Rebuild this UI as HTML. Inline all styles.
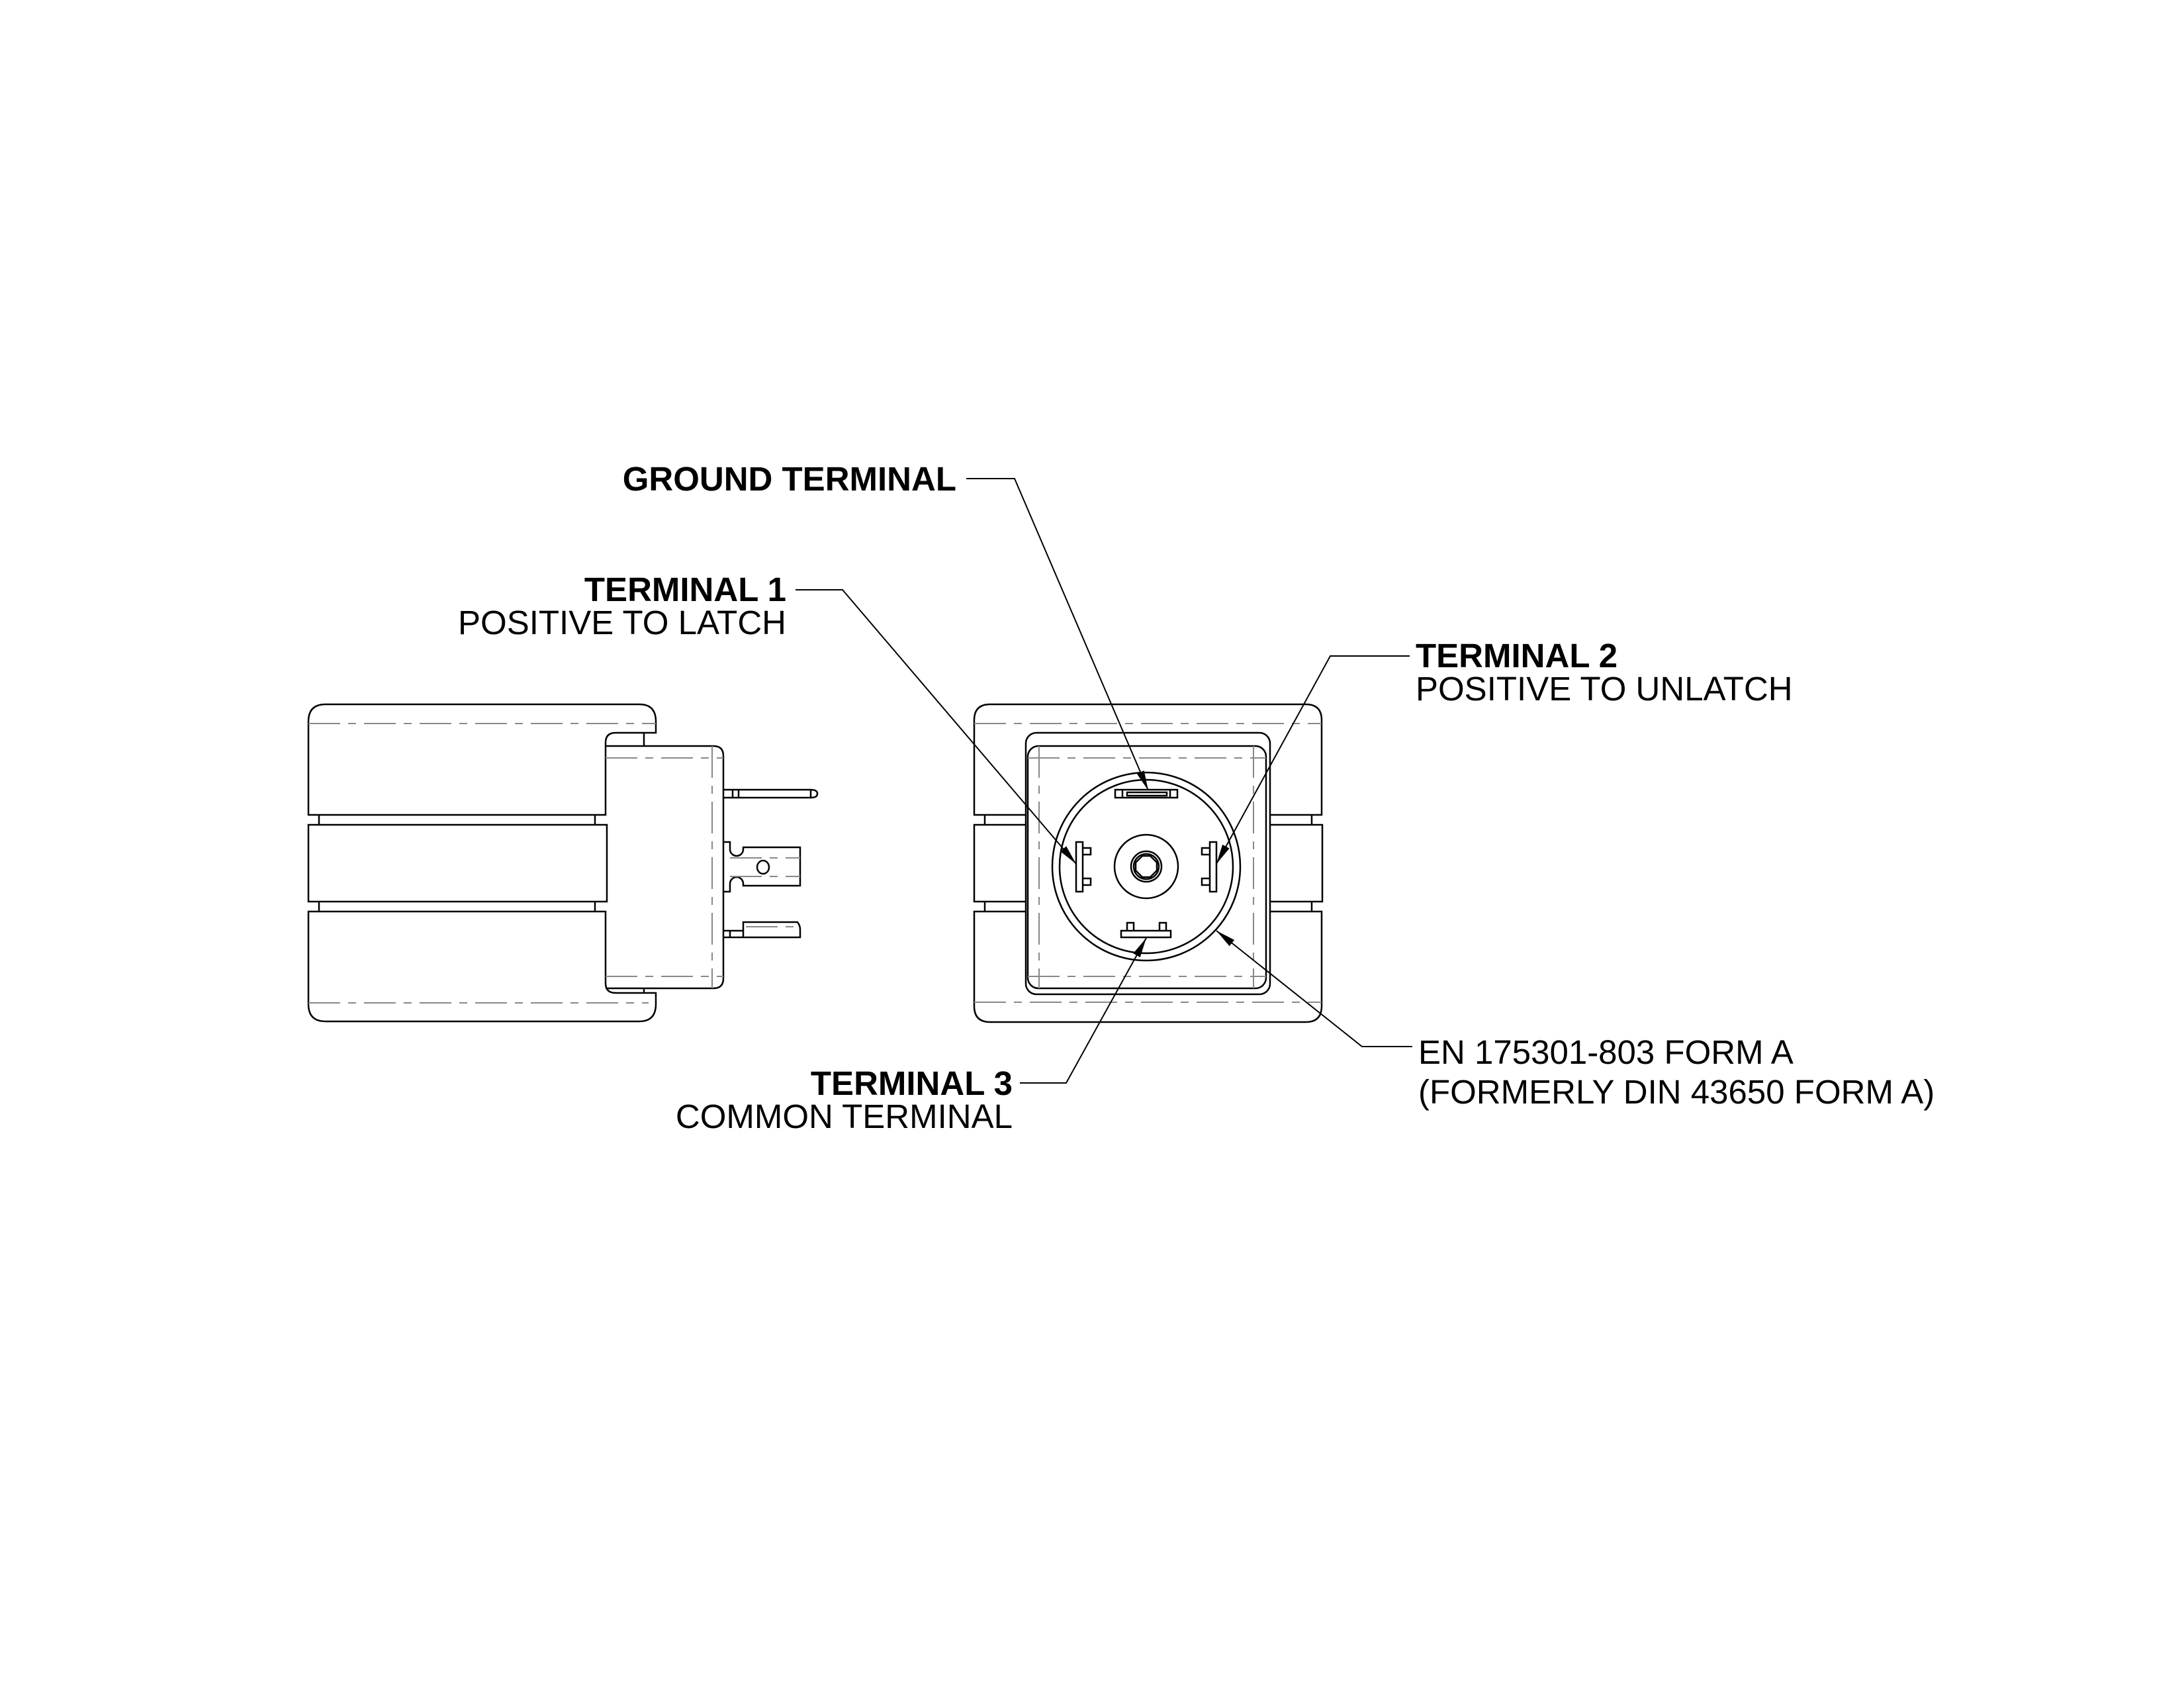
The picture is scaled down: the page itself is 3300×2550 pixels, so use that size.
<!DOCTYPE html>
<html><head><meta charset="utf-8"><style>
html,body{margin:0;padding:0;background:#fff}
svg{display:block}
text{font-family:"Liberation Sans",Arial,sans-serif;font-size:51px;fill:#000}
.b{font-weight:bold}
</style></head><body>
<svg width="3300" height="2550" viewBox="0 0 3300 2550" xmlns="http://www.w3.org/2000/svg">
<defs>
<marker id="ar" viewBox="0 0 30 12" refX="30" refY="6" markerWidth="30" markerHeight="12" markerUnits="userSpaceOnUse" orient="auto">
<path d="M0,0 L30,6 L0,12 z" fill="#000"/>
</marker>
</defs>
<rect width="3300" height="2550" fill="#fff"/>

<g fill="none" stroke="#000" stroke-width="2.5">
<path d="M466,1231 L466,1090 Q466,1064 492,1064 L966,1064 Q991,1064 991,1090 L991,1107 L930,1107 Q915,1107 915,1122 L915,1231 Z"/>
<line x1="973" y1="1107" x2="973" y2="1127"/>
<rect x="466" y="1246" width="451" height="116"/>
<line x1="482" y1="1231" x2="482" y2="1246"/><line x1="899" y1="1231" x2="899" y2="1246"/>
<line x1="482" y1="1362" x2="482" y2="1377"/><line x1="899" y1="1362" x2="899" y2="1377"/>
<path d="M466,1377 L466,1517 Q466,1543 492,1543 L966,1543 Q991,1543 991,1517 L991,1500 L930,1500 Q915,1500 915,1485 L915,1377 Z"/>
<line x1="973" y1="1493" x2="973" y2="1500"/>
<path d="M915,1127 L1078,1127 Q1093,1127 1093,1142 L1093,1478 Q1093,1493 1078,1493 L915,1493"/>
<path d="M1093,1193 L1225,1193 Q1235,1193 1235,1199 Q1235,1205 1225,1205 L1093,1205"/>
<line x1="1107" y1="1193" x2="1107" y2="1205"/><line x1="1116" y1="1193" x2="1116" y2="1205"/>
<line x1="1225" y1="1193" x2="1225" y2="1205"/>
<path d="M1093,1272 L1103,1272 L1103,1283 A10,10 0 0 0 1123,1283 L1123,1280 L1209,1280 L1209,1338 L1123,1338 L1123,1335 A10,10 0 0 0 1103,1335 L1103,1347 L1093,1347"/>
<ellipse cx="1153" cy="1310" rx="9" ry="10"/>
<path d="M1093,1406 L1123,1406 L1123,1393 L1205,1393 Q1209,1398 1209,1404 L1209,1416 L1093,1416"/>
<line x1="1103" y1="1406" x2="1103" y2="1416"/><line x1="1123" y1="1406" x2="1123" y2="1416"/>
</g>
<g stroke="#888" stroke-width="2" stroke-dasharray="48 12 12 12" fill="none">
<line x1="466" y1="1093" x2="991" y2="1093"/>
<line x1="466" y1="1515" x2="980" y2="1515"/>
<line x1="915" y1="1145" x2="1093" y2="1145"/>
<line x1="915" y1="1475" x2="1093" y2="1475"/>
<line x1="1076" y1="1127" x2="1076" y2="1493"/>
<line x1="1103" y1="1296" x2="1209" y2="1296"/>
<line x1="1103" y1="1324" x2="1209" y2="1324"/>
<line x1="1127" y1="1400" x2="1209" y2="1400"/>
</g>

<g fill="none" stroke="#000" stroke-width="2.5">
<path d="M1551,1231 L1472,1231 L1472,1088 Q1472,1064 1496,1064 L1973,1064 Q1997,1064 1997,1088 L1997,1231 L1919,1231"/>
<path d="M1551,1377 L1472,1377 L1472,1520 Q1472,1544 1496,1544 L1973,1544 Q1997,1544 1997,1520 L1997,1377 L1919,1377"/>
<path d="M1551,1246 L1472,1246 L1472,1362 L1551,1362"/>
<path d="M1919,1246 L1998,1246 L1998,1362 L1919,1362"/>
<line x1="1488" y1="1231" x2="1488" y2="1246"/><line x1="1488" y1="1362" x2="1488" y2="1377"/>
<line x1="1982" y1="1231" x2="1982" y2="1246"/><line x1="1982" y1="1362" x2="1982" y2="1377"/>
<rect x="1550" y="1107" width="369" height="395" rx="16"/>
<rect x="1553" y="1127" width="360" height="366" rx="16"/>
<circle cx="1732" cy="1309" r="142"/>
<circle cx="1732" cy="1309" r="131"/>
<circle cx="1732" cy="1309" r="48"/>
<circle cx="1732" cy="1309" r="23"/>
<circle cx="1732" cy="1309" r="19"/>
<polygon points="1726,1293 1738,1293 1748,1303 1748,1315 1738,1325 1726,1325 1716,1315 1716,1303"/>
<rect x="1685" y="1193" width="94" height="12"/>
<line x1="1696" y1="1193" x2="1696" y2="1205"/><line x1="1768" y1="1193" x2="1768" y2="1205"/>
<path d="M1703,1197 L1763,1197 L1763,1202 L1703,1202 Z"/>
<rect x="1626" y="1272" width="10" height="75"/>
<path d="M1636,1281 L1648,1281 L1648,1291 L1636,1291"/>
<path d="M1636,1327 L1648,1327 L1648,1337 L1636,1337"/>
<rect x="1828" y="1272" width="10" height="75"/>
<path d="M1828,1281 L1816,1281 L1816,1291 L1828,1291"/>
<path d="M1828,1327 L1816,1327 L1816,1337 L1828,1337"/>
<rect x="1694" y="1406" width="75" height="10"/>
<path d="M1703,1406 L1703,1394 L1713,1394 L1713,1406"/>
<path d="M1752,1406 L1752,1394 L1762,1394 L1762,1406"/>
</g>
<g stroke="#888" stroke-width="2" stroke-dasharray="48 12 12 12" fill="none">
<line x1="1472" y1="1093" x2="1997" y2="1093"/>
<line x1="1472" y1="1514" x2="1997" y2="1514"/>
<line x1="1553" y1="1145" x2="1913" y2="1145"/>
<line x1="1553" y1="1475" x2="1913" y2="1475"/>
<line x1="1570" y1="1127" x2="1570" y2="1493"/>
<line x1="1894" y1="1127" x2="1894" y2="1493"/>
</g>

<g fill="none" stroke="#000" stroke-width="2">
<polyline points="1460,723 1533,723 1735,1194" marker-end="url(#ar)"/>
<polyline points="1202,891 1273,891 1626,1305" marker-end="url(#ar)"/>
<polyline points="2130,991 2010,991 1838,1305" marker-end="url(#ar)"/>
<polyline points="1541,1636 1611,1636 1732,1417" marker-end="url(#ar)"/>
<polyline points="2134,1581 2058,1581 1838,1406" marker-end="url(#ar)"/>
</g>

<text x="1445" y="741" text-anchor="end" class="b">GROUND TERMINAL</text>
<text x="1188" y="908" text-anchor="end" class="b">TERMINAL 1</text>
<text x="1188" y="958" text-anchor="end">POSITIVE TO LATCH</text>
<text x="2139" y="1008" class="b">TERMINAL 2</text>
<text x="2139" y="1058">POSITIVE TO UNLATCH</text>
<text x="1530" y="1654" text-anchor="end" class="b">TERMINAL 3</text>
<text x="1530" y="1704" text-anchor="end">COMMON TERMINAL</text>
<text x="2143" y="1607">EN 175301-803 FORM A</text>
<text x="2143" y="1667">(FORMERLY DIN 43650 FORM A)</text>
</svg>
</body></html>
